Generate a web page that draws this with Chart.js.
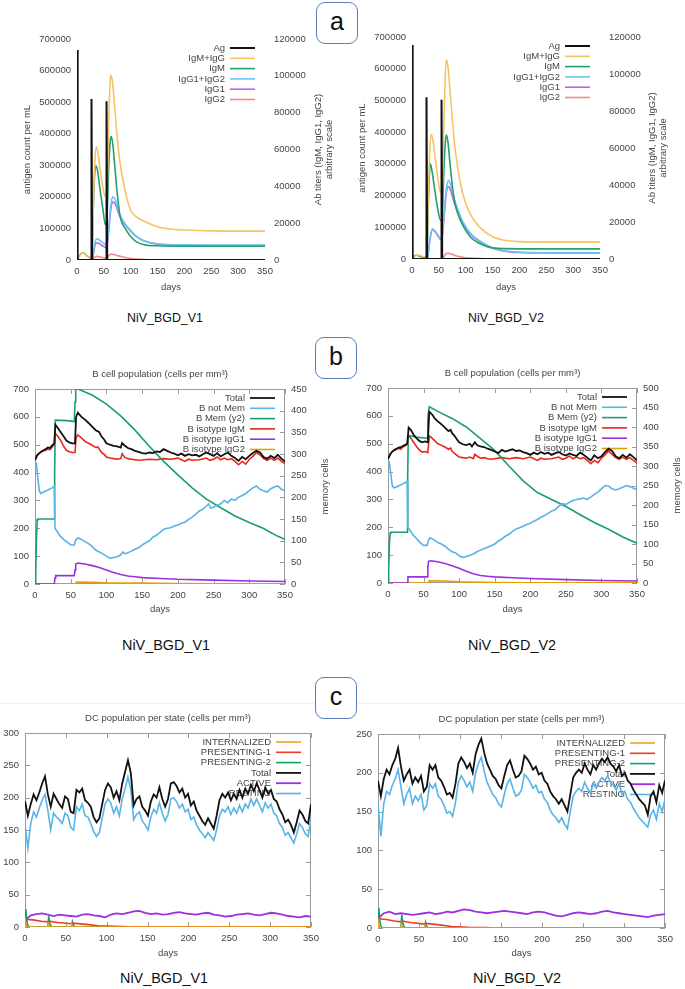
<!DOCTYPE html>
<html>
<head>
<meta charset="utf-8">
<script src="https://cdn.jsdelivr.net/npm/chart.js@4.4.1/dist/chart.umd.min.js"></script>
<style>
  body { margin:0; background:#fff; width:685px; height:989px; position:relative; overflow:hidden; font-family:"Liberation Sans", Arial, sans-serif; }
  canvas { position:absolute; }
  .tag { position:absolute; width:40px; height:40px; border:1.5px solid #5a7ebf; border-radius:9px; font-size:25px; text-align:center; line-height:36px; color:#111; background:#fff; z-index:2; }
  .cap { position:absolute; font-size:14.4px; color:#111; transform:translate(-50%,-50%); white-space:nowrap; }
  .cap.small { font-size:12.4px; }
  .sep { position:absolute; left:0; top:703px; width:685px; height:1px; background:#f0f0f0; }
</style>
</head>
<body>
<div class="sep"></div>
<div class="tag" style="left:316px;top:2px">a</div>
<div class="tag" style="left:315px;top:337px">b</div>
<div class="tag" style="left:315px;top:677px">c</div>
<div class="cap small" style="left:165px;top:318px">NiV_BGD_V1</div>
<div class="cap small" style="left:506px;top:318px">NiV_BGD_V2</div>
<div class="cap" style="left:166px;top:645px">NiV_BGD_V1</div>
<div class="cap" style="left:512px;top:645px">NiV_BGD_V2</div>
<div class="cap" style="left:164px;top:978px">NiV_BGD_V1</div>
<div class="cap" style="left:517px;top:978px">NiV_BGD_V2</div>
<script>
// ---------- data: panel a (antigen & antibody titers) ----------
// Ag on left axis (antigen count per mL), antibodies on right axis
const a1Ag = [[0,665000],[1.2,0],[26.7,0],[27,510000],[28.2,0],[54.7,0],[55,503000],[56.2,0],[350,0]];
const a1IgMIgG = [[0,0],[4,1500],[8,3500],[12,3800],[16,3000],[20,2000],[26,1200],[28,4000],[30,25000],[33,52000],[36,61500],[39,58000],[43,49000],[48,40000],[53,34500],[56,38000],[59,75000],[62,98000],[63,100300],[66,97000],[70,84000],[75,66000],[80,53000],[90,37000],[100,27000],[110,23500],[125,21000],[150,18000],[175,16700],[200,16300],[250,15800],[300,15700],[350,15700]];
const a1IgM = [[0,0],[4,2000],[8,3600],[12,3800],[16,3000],[20,2000],[26,1000],[28,4000],[31,35000],[34,50000],[36,51000],[39,47000],[43,38000],[48,28000],[53,19000],[56,24000],[59,50000],[62,65000],[64,67000],[67,62000],[70,52000],[75,36000],[80,24000],[90,17000],[100,12700],[110,10000],[125,8300],[150,7700],[200,7500],[350,7500]];
const a1IgG12 = [[0,0],[28,0],[30,3000],[34,10000],[37,11500],[41,11000],[46,9800],[52,8700],[55,8200],[58,14000],[62,27000],[66,34300],[70,33500],[75,29000],[80,24500],[90,19500],[100,16000],[110,13000],[125,10500],[150,8800],[175,8300],[200,8200],[250,8100],[350,8100]];
const a1IgG1 = [[0,0],[28,0],[30,2500],[34,8500],[37,9400],[41,9000],[46,8000],[52,7000],[55,6600],[58,12500],[62,25000],[66,31400],[70,31000],[75,27500],[80,23500],[90,19000],[100,15600],[110,12800],[125,10300],[150,8600],[175,8100],[200,8000],[250,7900],[350,7900]];
const a1IgG2 = [[0,0],[28,0],[32,1200],[36,2000],[42,1600],[50,1200],[55,1000],[58,2000],[63,3200],[68,3000],[80,2000],[100,800],[125,300],[150,100],[200,0],[350,0]];

const a2Ag = [[0,675000],[1.2,0],[26.7,0],[27,510000],[28.2,0],[54.7,0],[55,502000],[56.2,0],[350,0]];
const a2IgMIgG = [[0,0],[4,1000],[8,2000],[12,2200],[16,1800],[20,1400],[26,1200],[28,5000],[30,30000],[33,58000],[36,67400],[39,64000],[43,55000],[48,44000],[53,36000],[56,38000],[59,70000],[62,100000],[64,107700],[67,104000],[70,94000],[75,76000],[80,60000],[90,41000],[100,30000],[110,23500],[125,17500],[150,12000],[175,10000],[200,9400],[250,9100],[300,9100],[350,9100]];
const a2IgM = [[0,0],[4,1500],[8,2000],[12,1800],[16,1400],[20,1000],[26,800],[28,5000],[31,35000],[34,51400],[37,48000],[42,38000],[48,27000],[53,21000],[56,22000],[59,45000],[62,63000],[64,67200],[67,63000],[70,54000],[75,40000],[80,30000],[90,21000],[100,15500],[110,11500],[125,8500],[150,6000],[200,5500],[350,5500]];
const a2IgG12 = [[0,0],[28,0],[30,3000],[34,12000],[38,16300],[42,15500],[48,13000],[53,11000],[56,12000],[60,25000],[64,38000],[68,42500],[72,40000],[78,33000],[85,27000],[95,20000],[110,13500],[125,10000],[150,6000],[175,4300],[200,3700],[250,3400],[350,3400]];
const a2IgG1 = [[0,0],[28,0],[30,2800],[34,11500],[38,15800],[42,15000],[48,12600],[53,10600],[56,11500],[60,23500],[64,36000],[68,39100],[72,37000],[78,31000],[85,25500],[95,19000],[110,13000],[125,9600],[150,5800],[175,4100],[200,3500],[250,3300],[350,3300]];
const a2IgG2 = [[0,0],[56,0],[60,1500],[64,3000],[68,3100],[75,2500],[85,1500],[100,700],[125,300],[150,100],[200,0],[350,0]];

// ---------- data: panel b (B cell population) ----------
const b1Total = [[0,445],[3,462],[6,470],[9,476],[12,480],[15,484],[18,490],[21,488],[24,498],[27,505],[28.5,572],[32,560],[36,545],[40,530],[44,515],[48,508],[52,505],[56,505],[57.5,600],[60,615],[65,600],[70,590],[75,578],[80,565],[85,552],[88,548],[90,545],[93,530],[97,518],[100,505],[105,500],[110,496],[115,494],[120,490],[122,506],[125,498],[130,488],[135,484],[140,478],[145,474],[150,470],[155,468],[160,472],[165,470],[170,476],[175,474],[180,484],[185,478],[190,472],[195,468],[200,462],[205,468],[210,460],[215,466],[220,462],[225,464],[230,458],[235,466],[240,472],[245,466],[250,460],[255,470],[260,458],[265,466],[270,472],[275,460],[280,452],[285,442],[290,456],[295,448],[300,460],[305,470],[310,478],[315,472],[320,456],[325,450],[330,460],[335,452],[340,464],[345,450],[350,440]];
const b1NotMem = [[0,445],[2,430],[4,380],[6,335],[8,325],[12,330],[16,335],[20,340],[24,345],[27,350],[28,200],[32,185],[36,170],[40,160],[45,150],[50,140],[55,140],[57,158],[60,165],[65,160],[70,152],[75,145],[80,135],[85,122],[90,115],[95,108],[100,100],[105,92],[110,95],[115,98],[120,104],[123,115],[126,108],[130,112],[135,118],[140,125],[145,130],[150,140],[155,148],[160,155],[165,168],[170,175],[175,185],[180,196],[185,200],[190,202],[195,208],[200,212],[205,218],[210,222],[215,232],[220,240],[225,250],[230,262],[235,268],[240,280],[243,288],[246,272],[250,276],[255,282],[260,288],[265,300],[270,292],[275,305],[280,300],[285,312],[290,318],[295,325],[300,335],[305,345],[310,352],[315,340],[320,335],[325,330],[330,342],[335,348],[340,352],[345,340],[350,335]];
const b1Mem = [[0,0],[1,30],[2,100],[3,148],[4,150],[27,150],[27.5,260],[28.5,378],[45,377],[55,375],[56,420],[57,450],[60,450],[80,436],[100,415],[120,388],[140,355],[160,318],[180,283],[200,252],[220,222],[240,196],[260,176],[280,157],[300,142],[320,128],[340,110],[350,103]];
const b1IgM = [[0,445],[3,462],[6,470],[9,474],[12,478],[15,480],[18,485],[21,482],[24,492],[27,500],[28.5,540],[32,530],[36,515],[40,495],[44,480],[48,475],[52,472],[56,472],[57.5,525],[60,535],[65,525],[70,512],[75,505],[80,498],[85,490],[88,492],[90,484],[93,472],[97,465],[100,456],[105,452],[110,450],[115,448],[120,450],[122,468],[125,456],[130,450],[135,448],[140,446],[145,444],[150,445],[160,448],[170,446],[180,450],[190,448],[200,452],[205,446],[210,440],[215,448],[220,444],[230,446],[240,452],[245,444],[250,448],[255,456],[260,446],[265,452],[270,446],[275,450],[280,440],[285,428],[290,440],[295,430],[300,448],[305,458],[310,472],[315,464],[320,450],[325,444],[330,452],[335,444],[340,452],[345,440],[350,432]];
const b1IgG1 = [[0,0],[27,0],[28,22],[29,30],[55,30],[56,50],[57,72],[60,75],[70,72],[80,66],[90,59],[100,50],[110,41],[120,34],[130,29],[140,26],[150,23],[175,20],[200,17],[250,14],[300,11],[350,9]];
const b1IgG2 = [[0,0],[57,0],[58,7],[80,6],[100,4],[150,3],[200,2],[250,1],[350,1]];

const b2Total = [[0,445],[3,462],[6,472],[9,478],[12,482],[15,486],[18,488],[21,492],[24,496],[27,500],[29,558],[32,550],[36,532],[40,520],[44,510],[48,505],[52,508],[56,505],[58,615],[62,605],[66,590],[70,580],[75,570],[80,558],[85,545],[88,550],[90,538],[93,530],[97,515],[100,505],[105,498],[110,495],[115,500],[118,490],[122,505],[125,495],[130,490],[135,488],[140,482],[145,478],[150,472],[155,466],[160,478],[165,472],[170,476],[175,480],[180,474],[185,476],[190,470],[195,466],[200,460],[205,468],[210,462],[215,470],[220,464],[225,468],[230,460],[235,466],[240,470],[245,462],[250,458],[255,465],[260,460],[265,456],[270,468],[275,460],[280,450],[285,440],[290,458],[295,448],[300,455],[305,470],[310,482],[315,474],[320,455],[325,448],[330,460],[335,450],[340,462],[345,452],[350,440]];
const b2NotMem = [[0,445],[2,430],[4,390],[6,350],[8,342],[12,345],[16,350],[20,355],[24,360],[27,365],[28,200],[32,185],[36,170],[40,160],[45,145],[50,135],[55,135],[57,155],[59,162],[65,155],[70,145],[75,140],[80,132],[85,122],[90,112],[95,108],[100,98],[105,92],[110,95],[115,100],[120,104],[125,112],[130,118],[135,124],[140,128],[145,134],[150,140],[155,150],[160,158],[165,168],[170,175],[175,185],[180,194],[185,198],[190,204],[195,210],[200,214],[205,222],[210,228],[215,236],[220,242],[225,250],[230,258],[235,264],[240,275],[245,285],[250,282],[255,290],[260,296],[265,300],[270,302],[275,305],[280,300],[285,308],[290,318],[295,326],[300,338],[305,350],[310,348],[315,338],[320,334],[325,338],[330,344],[335,350],[340,346],[345,340],[350,335]];
const b2Mem = [[0,0],[1,40],[2,100],[3,128],[4,130],[27,130],[27.5,250],[28.5,378],[40,374],[55,371],[56,420],[57,440],[58,452],[70,440],[90,422],[110,400],[130,370],[150,340],[170,300],[190,262],[210,232],[230,214],[250,196],[270,175],[290,155],[310,138],[330,118],[350,102]];
const b2IgM = [[0,445],[3,462],[6,472],[9,476],[12,480],[15,484],[18,480],[21,488],[24,492],[27,498],[29,530],[32,520],[36,505],[40,490],[44,478],[48,470],[52,472],[56,468],[58,528],[62,520],[66,510],[70,500],[75,495],[80,488],[85,480],[88,484],[90,474],[93,466],[97,458],[100,452],[105,450],[110,448],[115,452],[120,446],[122,462],[125,456],[130,448],[135,450],[140,446],[145,444],[150,446],[160,450],[170,446],[180,450],[190,446],[200,452],[205,446],[210,440],[215,448],[220,444],[230,446],[240,452],[245,444],[250,448],[255,456],[260,446],[265,452],[270,446],[275,450],[280,440],[285,428],[290,440],[295,432],[300,448],[305,460],[310,474],[315,462],[320,450],[325,444],[330,452],[335,444],[340,450],[345,440],[350,430]];
const b2IgG1 = [[0,0],[27,0],[28,22],[55,22],[56,55],[57,78],[60,80],[70,76],[80,70],[90,62],[100,53],[110,42],[120,33],[130,27],[140,24],[150,22],[175,19],[200,16],[250,12],[300,9],[350,7]];
const b2IgG2 = [[0,0],[57,0],[58,8],[80,7],[100,4],[150,2],[200,1],[350,1]];

// ---------- data: panel c (DC population per state) ----------
// total / resting sampled every 3.5 days, active every 7 days
const c1Total = [195,172,190,205,196,208,222,233,205,186,206,198,190,184,202,198,178,176,212,208,214,196,192,186,170,162,168,190,212,222,216,200,210,196,222,240,258,238,188,198,202,186,180,172,194,205,200,216,198,186,198,222,224,218,208,214,200,206,188,194,180,172,164,158,168,160,152,172,196,206,200,208,196,206,198,212,200,214,206,220,210,222,212,200,216,206,212,198,194,182,174,162,166,158,146,162,180,174,164,160,190];
const c1Rest = [158,122,160,178,170,184,196,205,180,150,176,170,166,160,176,172,154,150,186,180,190,172,170,160,148,140,146,168,190,198,192,176,186,172,198,214,232,212,166,174,178,164,158,150,170,182,176,192,176,164,174,198,200,194,184,190,178,182,166,170,158,150,144,138,146,140,134,150,172,182,178,186,174,184,176,188,178,190,184,198,188,198,188,178,192,184,190,176,172,160,154,142,146,138,130,144,160,154,144,140,168];
const c1Active = [10,18,20,21,19,17,19,18,17,16,19,20,18,17,15,19,21,20,22,24,25,22,20,21,19,20,22,23,21,20,19,21,22,19,18,16,17,19,20,21,19,18,20,22,21,19,17,16,15,17,16];
const c1Pres1 = [[0,12],[10,11],[20,9],[28,8],[29,9],[40,7],[57,5],[58,6],[75,4],[90,2],[110,1],[130,0.5],[150,0],[350,0]];
const c1Pres2 = [[0,0],[1,28],[2,12],[3,4],[5,0],[28,0],[29,17],[30,7],[32,1],[34,0],[57,0],[58,8],[59,4],[61,0],[350,0]];
const c1Intern = [[0,0],[0.5,9],[1.5,3],[3,0],[28,0],[28.5,5],[30,0],[57,0],[57.5,3],[59,0],[350,0]];

const c2Total = [190,170,192,204,198,210,218,232,208,190,198,204,186,194,188,196,176,182,210,204,210,194,190,182,172,174,168,186,212,220,214,206,212,200,224,236,244,226,212,204,196,192,184,180,196,210,216,204,194,196,202,222,218,212,204,208,198,200,190,186,176,170,166,160,166,158,150,172,194,200,204,200,212,204,198,210,204,212,218,214,220,212,208,202,210,196,200,190,186,178,172,166,162,158,146,170,176,162,184,174,190];
const c2Rest = [160,118,160,176,172,184,192,204,182,160,172,180,160,170,164,172,152,158,186,180,186,170,166,158,148,150,144,162,188,196,190,182,188,176,200,212,220,202,188,180,172,168,160,156,172,186,192,180,170,172,178,198,194,188,180,184,174,176,166,162,152,146,142,136,142,134,128,150,170,176,180,176,188,180,174,186,180,188,194,190,196,188,184,178,186,172,176,166,162,154,148,142,138,134,130,146,152,140,160,150,166];
const c2Active = [12,19,21,18,19,18,17,18,19,20,18,19,21,20,22,24,23,21,20,19,20,21,22,21,20,19,18,20,21,20,18,16,15,17,19,20,19,18,19,21,22,20,19,18,17,16,15,14,16,17,18];
const c2Pres1 = [[0,12],[10,11],[20,9],[28,8],[29,9],[40,7],[57,5],[58,6],[75,4],[90,2],[110,1],[130,0.5],[150,0],[350,0]];
const c2Pres2 = [[0,0],[1,26],[2,12],[3,4],[5,0],[28,0],[29,17],[30,7],[32,1],[34,0],[57,0],[58,7],[59,3],[61,0],[350,0]];
const c2Intern = [[0,0],[0.5,12],[1.5,4],[3,0],[28,0],[28.5,5],[30,0],[57,0],[57.5,3],[59,0],[350,0]];

// ---------- helpers ----------
const FAM = '"Liberation Sans", Arial, sans-serif';
const TXT = '#444';

function pts(pairs) { return pairs.map(p => ({ x: p[0], y: p[1] })); }
function stepPts(vals, step) { return vals.map((v, i) => ({ x: i * step, y: v })); }

function ln(label, color, data, axis, width, smooth) {
  return {
    label: label, data: data, borderColor: color, backgroundColor: color,
    borderWidth: width || 1.6, pointRadius: 0, yAxisID: axis || 'y',
    tension: 0, cubicInterpolationMode: smooth ? 'monotone' : 'default', fill: false
  };
}

function seg(ctx, x1, y1, x2, y2) {
  ctx.beginPath(); ctx.moveTo(x1, y1); ctx.lineTo(x2, y2); ctx.stroke();
}

function rotText(ctx, txt, x, y) {
  ctx.save(); ctx.translate(x, y); ctx.rotate(-Math.PI / 2);
  ctx.textAlign = 'center'; ctx.textBaseline = 'middle';
  ctx.fillText(txt, 0, 0); ctx.restore();
}

// gnuplot-ish frame, inward ticks, key and titles
const gnuPlugin = {
  id: 'gnu',
  beforeDatasetsDraw(chart, args, o) {
    const ctx = chart.ctx, a = chart.chartArea;
    ctx.save();
    ctx.font = '9.5px ' + FAM;
    ctx.fillStyle = TXT;
    if (o.frame) {
      ctx.strokeStyle = '#9a9a9a'; ctx.lineWidth = 1;
      ctx.strokeRect(Math.round(a.left) + 0.5, Math.round(a.top) + 0.5, Math.round(a.right - a.left) - 1, Math.round(a.bottom - a.top) - 1);
      const xs = chart.scales.x;
      xs.ticks.forEach(t => {
        const px = Math.round(xs.getPixelForValue(t.value)) + 0.5;
        seg(ctx, px, a.bottom, px, a.bottom - 5); seg(ctx, px, a.top, px, a.top + 5);
      });
      const ys = chart.scales.y;
      ys.ticks.forEach(t => {
        const py = Math.round(ys.getPixelForValue(t.value)) + 0.5;
        seg(ctx, a.left, py, a.left + 5, py);
        if (!chart.scales.y2) seg(ctx, a.right, py, a.right - 5, py);
      });
      if (chart.scales.y2) {
        const y2 = chart.scales.y2;
        y2.ticks.forEach(t => {
          const py = Math.round(y2.getPixelForValue(t.value)) + 0.5;
          seg(ctx, a.right, py, a.right - 5, py);
        });
      }
    }
    // key
    let ky = a.top + 9;
    chart.data.datasets.forEach(ds => {
      ctx.textAlign = 'right'; ctx.textBaseline = 'middle';
      ctx.fillStyle = TXT;
      ctx.fillText(ds.label, a.right - 40, ky);
      ctx.strokeStyle = ds.borderColor; ctx.lineWidth = ds.borderWidth;
      seg(ctx, a.right - 35, ky, a.right - 10, ky);
      ky += 10.3;
    });
    ctx.fillStyle = TXT;
    if (o.title) {
      ctx.textAlign = 'center'; ctx.textBaseline = 'middle';
      ctx.fillText(o.title, (a.left + a.right) / 2, a.top - 15);
    }
    const midY = (a.top + a.bottom) / 2;
    (o.yTitle || []).forEach(t => rotText(ctx, t[0], t[1] - o.cx, midY));
    ctx.textAlign = 'center'; ctx.textBaseline = 'middle';
    ctx.fillText('days', (a.left + a.right) / 2, o.daysY - o.cy);
    ctx.restore();
  }
};

function build(p) {
  const [cx, cy, cw, ch] = p.box;
  const [pl, pt, pr, pb] = p.plot;
  const c = document.createElement('canvas');
  c.width = cw; c.height = ch;
  c.style.left = cx + 'px'; c.style.top = cy + 'px';
  document.body.appendChild(c);
  const tickFont = { family: FAM, size: 9.5 };
  const base = () => ({
    type: 'linear', grid: { display: false, drawTicks: false }, border: { display: false }
  });
  const scales = {
    x: Object.assign(base(), {
      min: 0, max: 350,
      ticks: { stepSize: 50, padding: 6, font: tickFont, color: TXT, maxRotation: 0, autoSkip: false, callback: v => String(v) },
      afterFit: s => { s.height = cy + ch - pb; }
    }),
    y: Object.assign(base(), {
      position: 'left', min: 0, max: p.yMax,
      ticks: { stepSize: p.yStep, padding: 6, font: tickFont, color: TXT, autoSkip: false, callback: v => String(v) },
      afterFit: s => { s.width = pl - cx; }
    })
  };
  if (p.y2Max) {
    scales.y2 = Object.assign(base(), {
      position: 'right', min: 0, max: p.y2Max,
      ticks: { stepSize: p.y2Step, padding: p.y2Pad || 6, font: tickFont, color: TXT, autoSkip: false, callback: v => String(v) },
      afterFit: s => { s.width = cx + cw - pr; }
    });
  }
  new Chart(c, {
    type: 'line',
    data: { datasets: p.datasets },
    options: {
      responsive: false, animation: false, events: [],
      layout: { padding: { top: pt - cy, left: 0, bottom: 0, right: p.y2Max ? 0 : cx + cw - pr } },
      plugins: {
        legend: { display: false }, tooltip: { enabled: false },
        gnu: { frame: p.frame, title: p.title, yTitle: p.yTitle, daysY: p.daysY, cx: cx, cy: cy }
      },
      scales: scales
    },
    plugins: [gnuPlugin]
  });
}

// ---------- colours ----------
const aCol = { ag: '#111111', sum: '#f5c462', igm: '#22a06e', g12: '#6cc4f2', g1: '#b467f0', g2: '#f48a80' };
const bCol = { tot: '#111111', nm: '#56b4e9', mem: '#1a9e6e', igm: '#e8271a', g1: '#9b30e0', g2: '#e69f00' };
const cCol = { intern: '#f0a020', p1: '#ee3b25', p2: '#10a070', tot: '#111111', act: '#9b30e0', rest: '#56b4e9' };

function aSets(ag, sum, igm, g12, g1, g2) {
  return [
    ln('Ag', aCol.ag, pts(ag), 'y', 2),
    ln('IgM+IgG', aCol.sum, pts(sum), 'y2', 1.6, true),
    ln('IgM', aCol.igm, pts(igm), 'y2', 1.6, true),
    ln('IgG1+IgG2', aCol.g12, pts(g12), 'y2', 1.6, true),
    ln('IgG1', aCol.g1, pts(g1), 'y2', 1.6, true),
    ln('IgG2', aCol.g2, pts(g2), 'y2', 1.6, true)
  ];
}
function bSets(tot, nm, mem, igm, g1, g2) {
  return [
    ln('Total', bCol.tot, pts(tot), 'y', 1.8),
    ln('B not Mem', bCol.nm, pts(nm), 'y', 1.6),
    ln('B Mem (y2)', bCol.mem, pts(mem), 'y2', 1.6),
    ln('B isotype IgM', bCol.igm, pts(igm), 'y', 1.6),
    ln('B isotype IgG1', bCol.g1, pts(g1), 'y', 1.6),
    ln('B isotype IgG2', bCol.g2, pts(g2), 'y', 1.6)
  ];
}
function cSets(intern, p1, p2, tot, act, rest) {
  return [
    ln('INTERNALIZED', cCol.intern, pts(intern), 'y', 1.6),
    ln('PRESENTING-1', cCol.p1, pts(p1), 'y', 1.6),
    ln('PRESENTING-2', cCol.p2, pts(p2), 'y', 1.6),
    ln('Total', cCol.tot, stepPts(tot, 3.5), 'y', 1.8),
    ln('ACTIVE', cCol.act, stepPts(act, 7), 'y', 1.8),
    ln('RESTING', cCol.rest, stepPts(rest, 3.5), 'y', 1.6)
  ];
}

const aTitles1 = [['antigen count per mL', 27], ['Ab titers (IgM, IgG1, IgG2)', 318], ['arbitrary scale', 329]];
const aTitles2 = [['antigen count per mL', 362], ['Ab titers (IgM, IgG1, IgG2)', 652], ['arbitrary scale', 663]];

build({ box: [0, 18, 340, 282], plot: [77, 39, 265, 260], yMax: 700000, yStep: 100000, y2Max: 120000, y2Step: 20000, y2Pad: 9,
  frame: false, yTitle: aTitles1, daysY: 287, datasets: aSets(a1Ag, a1IgMIgG, a1IgM, a1IgG12, a1IgG1, a1IgG2) });
build({ box: [340, 16, 345, 284], plot: [412, 37, 600, 259], yMax: 700000, yStep: 100000, y2Max: 120000, y2Step: 20000, y2Pad: 9,
  frame: false, yTitle: aTitles2, daysY: 287, datasets: aSets(a2Ag, a2IgMIgG, a2IgM, a2IgG12, a2IgG1, a2IgG2) });

build({ box: [0, 355, 340, 265], plot: [35, 389, 285, 584], yMax: 700, yStep: 100, y2Max: 450, y2Step: 50, y2Pad: 6,
  frame: true, title: 'B cell population (cells per mm³)', yTitle: [['memory cells', 325]], daysY: 609,
  datasets: bSets(b1Total, b1NotMem, b1Mem, b1IgM, b1IgG1, b1IgG2) });
build({ box: [340, 355, 345, 265], plot: [388, 388, 637, 583], yMax: 700, yStep: 100, y2Max: 500, y2Step: 50, y2Pad: 6,
  frame: true, title: 'B cell population (cells per mm³)', yTitle: [['memory cells', 677]], daysY: 609,
  datasets: bSets(b2Total, b2NotMem, b2Mem, b2IgM, b2IgG1, b2IgG2) });

build({ box: [0, 705, 340, 255], plot: [25, 733, 311, 927], yMax: 300, yStep: 50,
  frame: true, title: 'DC population per state (cells per mm³)', yTitle: [], daysY: 953,
  datasets: cSets(c1Intern, c1Pres1, c1Pres2, c1Total, c1Active, c1Rest) });
build({ box: [340, 705, 345, 255], plot: [378, 734, 665, 928], yMax: 250, yStep: 50,
  frame: true, title: 'DC population per state (cells per mm³)', yTitle: [], daysY: 953,
  datasets: cSets(c2Intern, c2Pres1, c2Pres2, c2Total, c2Active, c2Rest) });
</script>
</body>
</html>
